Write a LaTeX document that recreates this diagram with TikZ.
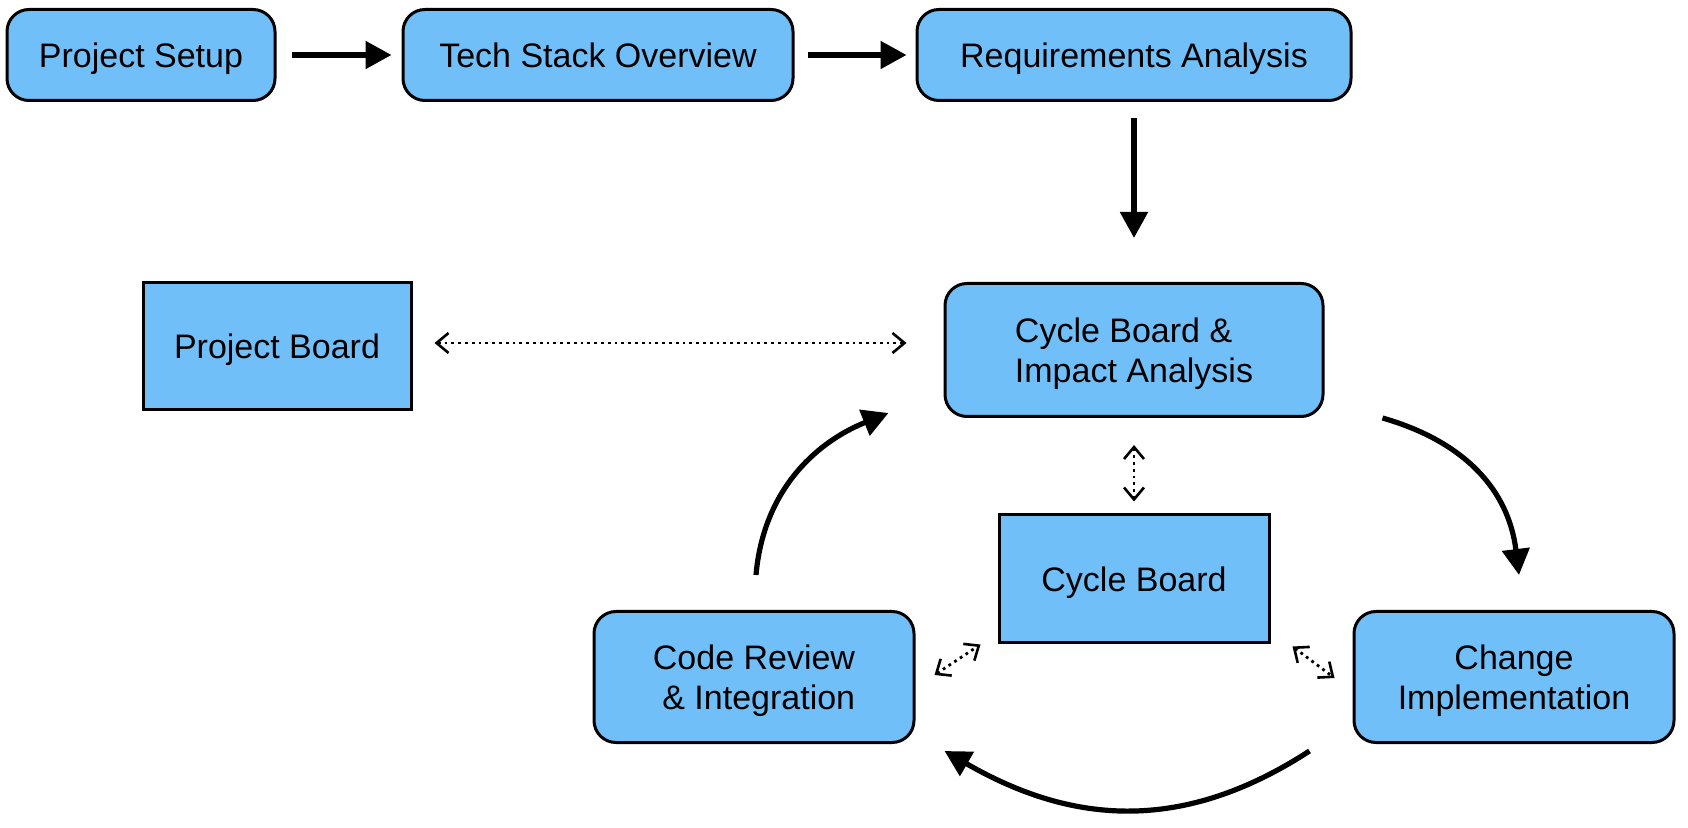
\documentclass[tikz,border=0pt]{standalone}
\usepackage{fontspec}
\setmainfont{Liberation Sans}
\usetikzlibrary{arrows.meta}
\definecolor{boxblue}{HTML}{70BFF9}
\begin{document}
\begin{tikzpicture}[x=0.5pt,y=0.5pt,
  every node/.style={font=\fontsize{17}{20}\selectfont, align=center, inner sep=0pt, text depth=0pt},
  rbox/.style={draw, line width=1.5pt, fill=boxblue, rounded corners=11pt},
  sbox/.style={draw, line width=1.5pt, fill=boxblue},
  flow/.style={line width=2.6pt, -{Triangle[length=13pt,width=13.5pt]}},
  link/.style={line width=1.4pt, dash pattern=on 1.4pt off 2pt,
    {Straight Barb[length=6pt,width=10pt,line width=1.3pt]}-{Straight Barb[length=6pt,width=10pt,line width=1.3pt]}}
]
\useasboundingbox (0,0) rectangle (1688,-828);
\node[rbox, minimum width=134pt, minimum height=45.5pt] (ps) at (141,-55) {Project Setup};
\node[rbox, minimum width=195pt, minimum height=45.5pt] (tso) at (598,-55) {Tech Stack Overview};
\node[rbox, minimum width=217pt, minimum height=45.5pt] (ra) at (1134,-55) {Requirements Analysis};
\node[sbox, minimum width=134pt, minimum height=63.5pt] (pb) at (277,-346) {Project Board};
\node[rbox, minimum width=189pt, minimum height=66.5pt, align=left] (cbia) at (1134,-350) {Cycle Board \&\\Impact Analysis};
\node[sbox, minimum width=135pt, minimum height=64pt] (cb) at (1134,-579) {Cycle Board};
\node[rbox, minimum width=160pt, minimum height=65.5pt] (cr) at (754,-677) {Code Review\\\hspace*{0.28em}\& Integration};
\node[rbox, minimum width=160pt, minimum height=65.5pt] (ci) at (1514,-677) {Change\\Implementation};

\draw[flow, shorten <=7.5pt, shorten >=5pt] (ps.east) -- (tso.west);
\draw[flow, shorten <=6.5pt, shorten >=4.5pt] (tso.east) -- (ra.west);
\draw[flow, shorten <=8pt, shorten >=22pt] (ra.south) -- (cbia.north);

\draw[link] ([xshift=11pt,yshift=1.5pt]pb.east) -- ([xshift=-18.5pt,yshift=3.5pt]cbia.west);
\draw[link] ([yshift=-13.5pt]cbia.south) -- ([yshift=6pt]cb.north);
\draw[link] ([xshift=9.5pt,yshift=1pt]cr.east) -- ([xshift=-8.5pt]cb.south west);
\draw[link] ([xshift=11pt,yshift=-1pt]cb.south east) -- ([xshift=-9pt,yshift=-0.5pt]ci.west);

\draw[flow] ([xshift=29pt]cbia.south east) to[out=-16,in=97,looseness=1.05] ([xshift=2.5pt,yshift=17.5pt]ci.north);
\draw[flow] ([xshift=-21.5pt,yshift=-3.5pt]ci.south west) to[out=-147,in=-30,looseness=1.05] ([xshift=14.5pt,yshift=-3.5pt]cr.south east);
\draw[flow] ([xshift=1pt,yshift=17.5pt]cr.north) to[out=85,in=-158] ([xshift=-27.5pt,yshift=2.5pt]cbia.south west);
\end{tikzpicture}
\end{document}
